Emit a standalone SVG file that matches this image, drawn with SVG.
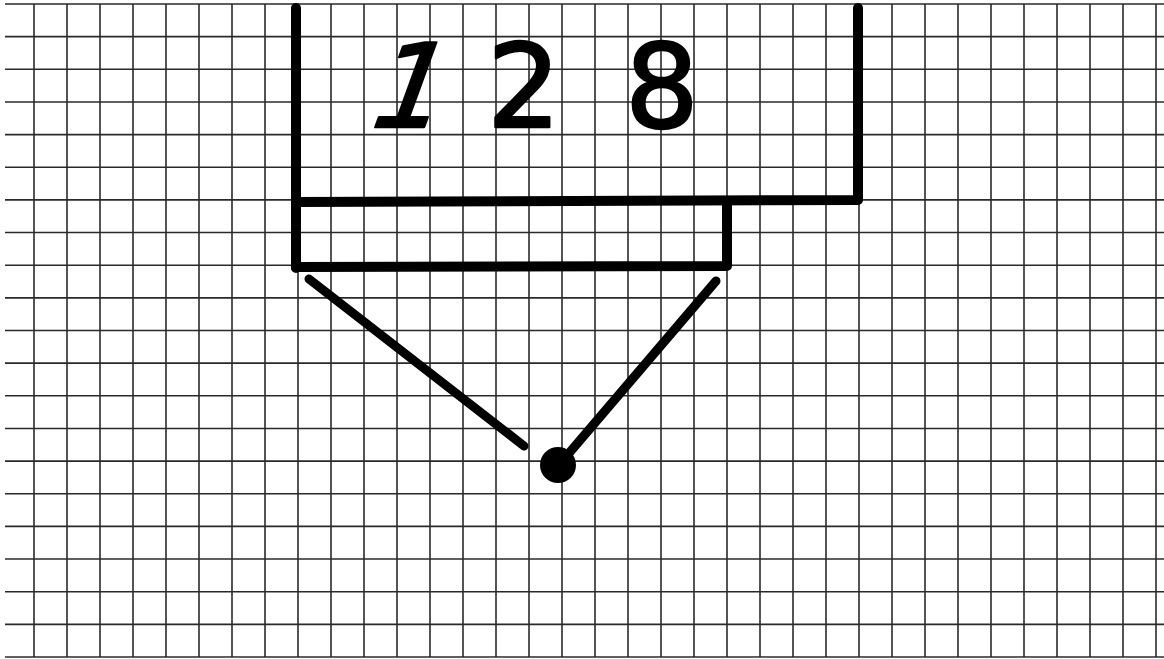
<svg xmlns="http://www.w3.org/2000/svg" width="1164" height="659" viewBox="0 0 1164 659">
<style>
.grid line{stroke:#2a2a2a;stroke-width:1.6}
.ink{stroke:#000;stroke-width:10;fill:none;stroke-linecap:round;stroke-linejoin:round}
.conn line{stroke:#000;stroke-width:9;stroke-linecap:round}
.digit{font-family:"DejaVu Sans","Liberation Sans",sans-serif;font-size:116px;fill:#000;stroke:#000;stroke-width:2.5;stroke-linejoin:round;text-anchor:middle}
</style>
<rect width="1164" height="659" fill="#fff"/>
<g id="grid" class="grid">
<line x1="5" y1="4" x2="1164" y2="4"/>
<line x1="5" y1="36.65" x2="1164" y2="36.65"/>
<line x1="5" y1="69.3" x2="1164" y2="69.3"/>
<line x1="5" y1="101.95" x2="1164" y2="101.95"/>
<line x1="5" y1="134.6" x2="1164" y2="134.6"/>
<line x1="5" y1="167.25" x2="1164" y2="167.25"/>
<line x1="5" y1="199.9" x2="1164" y2="199.9"/>
<line x1="5" y1="232.55" x2="1164" y2="232.55"/>
<line x1="5" y1="265.2" x2="1164" y2="265.2"/>
<line x1="5" y1="297.85" x2="1164" y2="297.85"/>
<line x1="5" y1="330.5" x2="1164" y2="330.5"/>
<line x1="5" y1="363.15" x2="1164" y2="363.15"/>
<line x1="5" y1="395.8" x2="1164" y2="395.8"/>
<line x1="5" y1="428.45" x2="1164" y2="428.45"/>
<line x1="5" y1="461.1" x2="1164" y2="461.1"/>
<line x1="5" y1="493.75" x2="1164" y2="493.75"/>
<line x1="5" y1="526.4" x2="1164" y2="526.4"/>
<line x1="5" y1="559.05" x2="1164" y2="559.05"/>
<line x1="5" y1="591.7" x2="1164" y2="591.7"/>
<line x1="5" y1="624.35" x2="1164" y2="624.35"/>
<line x1="5" y1="657" x2="1164" y2="657"/>
<line x1="34" y1="4" x2="34" y2="657"/>
<line x1="67" y1="4" x2="67" y2="657"/>
<line x1="100" y1="4" x2="100" y2="657"/>
<line x1="133" y1="4" x2="133" y2="657"/>
<line x1="166" y1="4" x2="166" y2="657"/>
<line x1="199" y1="4" x2="199" y2="657"/>
<line x1="232" y1="4" x2="232" y2="657"/>
<line x1="265" y1="4" x2="265" y2="657"/>
<line x1="298" y1="4" x2="298" y2="657"/>
<line x1="331" y1="4" x2="331" y2="657"/>
<line x1="364" y1="4" x2="364" y2="657"/>
<line x1="397" y1="4" x2="397" y2="657"/>
<line x1="430" y1="4" x2="430" y2="657"/>
<line x1="463" y1="4" x2="463" y2="657"/>
<line x1="496" y1="4" x2="496" y2="657"/>
<line x1="529" y1="4" x2="529" y2="657"/>
<line x1="562" y1="4" x2="562" y2="657"/>
<line x1="595" y1="4" x2="595" y2="657"/>
<line x1="628" y1="4" x2="628" y2="657"/>
<line x1="661" y1="4" x2="661" y2="657"/>
<line x1="694" y1="4" x2="694" y2="657"/>
<line x1="727" y1="4" x2="727" y2="657"/>
<line x1="760" y1="4" x2="760" y2="657"/>
<line x1="793" y1="4" x2="793" y2="657"/>
<line x1="826" y1="4" x2="826" y2="657"/>
<line x1="859" y1="4" x2="859" y2="657"/>
<line x1="892" y1="4" x2="892" y2="657"/>
<line x1="925" y1="4" x2="925" y2="657"/>
<line x1="958" y1="4" x2="958" y2="657"/>
<line x1="991" y1="4" x2="991" y2="657"/>
<line x1="1024" y1="4" x2="1024" y2="657"/>
<line x1="1057" y1="4" x2="1057" y2="657"/>
<line x1="1090" y1="4" x2="1090" y2="657"/>
<line x1="1123" y1="4" x2="1123" y2="657"/>
<line x1="1156" y1="4" x2="1156" y2="657"/>
</g>
<g id="outer-box">
<path class="ink" d="M296,8 L296,268 M296,202 L858,200 L858,8"/>
<text class="digit" transform="translate(398,127) skewX(-20)" x="0" y="0">1</text>
<text class="digit" x="524" y="127">2</text>
<text class="digit" x="662" y="127">8</text>
</g>
<g id="inner-box">
<path class="ink" d="M296,267 L727,266 L727,202"/>
</g>
<g id="connectors" class="conn">
<line x1="309" y1="279" x2="524" y2="446"/>
<line x1="716" y1="281" x2="570" y2="452"/>
</g>
<g id="dot">
<circle cx="558" cy="465" r="18" fill="#000"/>
</g>
</svg>
